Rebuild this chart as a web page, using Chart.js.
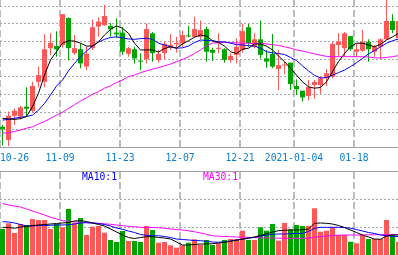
<!DOCTYPE html>
<html>
<head>
<meta charset="utf-8">
<script src="https://cdn.jsdelivr.net/npm/chart.js@4.4.0/dist/chart.umd.min.js"></script>
<style>
  html, body { margin: 0; padding: 0; background: #fff; }
  .kline-wrap { position: relative; width: 398px; height: 255px; overflow: hidden; background: #fff; }
  .kline-wrap canvas { position: absolute; left: 0; }
  #priceChart { top: 0; }
  #volumeChart { top: 171px; }
</style>
</head>
<body>
<div class="kline-wrap">
  <canvas id="priceChart" width="398" height="171"></canvas>
  <canvas id="volumeChart" width="398" height="84"></canvas>
</div>
<script>
var dates = [
    '2020-10-26', '2020-10-27', '2020-10-28', '2020-10-29', '2020-10-30',
    '2020-11-02', '2020-11-03', '2020-11-04', '2020-11-05', '2020-11-06',
    '2020-11-09', '2020-11-10', '2020-11-11', '2020-11-12', '2020-11-13',
    '2020-11-16', '2020-11-17', '2020-11-18', '2020-11-19', '2020-11-20',
    '2020-11-23', '2020-11-24', '2020-11-25', '2020-11-26', '2020-11-27',
    '2020-11-30', '2020-12-01', '2020-12-02', '2020-12-03', '2020-12-04',
    '2020-12-07', '2020-12-08', '2020-12-09', '2020-12-10', '2020-12-11',
    '2020-12-14', '2020-12-15', '2020-12-16', '2020-12-17', '2020-12-18',
    '2020-12-21', '2020-12-22', '2020-12-23', '2020-12-24', '2020-12-25',
    '2020-12-28', '2020-12-29', '2020-12-30', '2020-12-31',
    '2021-01-04', '2021-01-05', '2021-01-06', '2021-01-07', '2021-01-08',
    '2021-01-11', '2021-01-12', '2021-01-13', '2021-01-14', '2021-01-15',
    '2021-01-18', '2021-01-19', '2021-01-20', '2021-01-21', '2021-01-22',
    '2021-01-25', '2021-01-26', '2021-01-27'
];

var openP = [
    14.57, 14.20, 14.88, 14.86, 15.14, 15.02, 15.84, 15.84, 16.79, 16.85,
    16.88, 17.64, 16.65, 16.76, 16.27, 16.79, 17.40, 17.44, 17.42, 17.23,
    17.23, 16.63, 16.76, 16.44, 16.48, 17.21, 16.46, 16.65, 16.83, 16.90,
    16.93, 17.14, 17.11, 17.11, 17.33, 16.74, 16.77, 16.76, 16.46, 16.60,
    16.74, 17.38, 16.83, 17.04, 16.50, 16.63, 16.20, 16.30, 16.38, 15.72,
    15.59, 15.44, 15.75, 15.75, 15.94, 15.98, 16.88, 16.79, 17.13, 16.69,
    16.72, 16.97, 16.69, 16.83, 17.04, 17.56, 17.07
];
var highP = [
    14.62, 15.00, 15.09, 15.16, 15.69, 15.84, 16.27, 17.18, 17.21, 17.27,
    17.75, 17.66, 17.16, 16.93, 16.83, 17.59, 17.66, 18.01, 17.50, 17.63,
    17.38, 16.83, 16.83, 16.65, 17.49, 17.25, 16.74, 16.97, 17.19, 17.11,
    17.28, 17.42, 17.68, 17.57, 17.40, 16.80, 17.21, 16.79, 16.65, 17.07,
    17.49, 17.47, 17.21, 17.57, 16.74, 17.19, 16.74, 16.41, 16.38, 15.91,
    15.59, 15.89, 15.89, 16.00, 16.20, 16.97, 17.21, 17.25, 17.13, 16.93,
    17.30, 17.04, 16.88, 17.07, 18.20, 17.75, 17.66
];
var lowP = [
    14.04, 14.03, 14.62, 14.78, 14.86, 14.97, 15.69, 15.69, 16.60, 16.55,
    16.80, 16.44, 16.60, 16.22, 16.17, 16.74, 17.11, 17.42, 17.11, 17.07,
    16.60, 16.55, 16.36, 16.17, 16.36, 16.41, 16.38, 16.48, 16.74, 16.66,
    16.83, 17.10, 17.10, 17.04, 16.41, 16.43, 16.65, 16.38, 16.38, 16.36,
    16.66, 16.83, 16.79, 16.50, 16.24, 16.22, 15.61, 16.06, 15.61, 15.47,
    15.28, 15.31, 15.36, 15.50, 15.72, 15.94, 16.55, 16.55, 16.72, 16.55,
    16.69, 16.41, 16.55, 16.50, 17.02, 17.21, 17.02
];
var closeP = [
    14.50, 14.88, 15.02, 15.12, 15.08, 15.72, 16.03, 16.76, 16.94, 16.76,
    17.75, 16.79, 16.79, 16.36, 16.63, 17.38, 17.54, 17.70, 17.32, 17.18,
    16.69, 16.79, 16.50, 16.41, 17.33, 16.65, 16.63, 16.91, 16.88, 16.94,
    17.16, 17.12, 17.33, 17.30, 16.69, 16.66, 16.79, 16.46, 16.57, 16.83,
    17.27, 16.93, 17.04, 16.60, 16.41, 16.27, 16.31, 16.31, 15.78, 15.63,
    15.40, 15.69, 15.84, 15.94, 16.08, 16.91, 16.97, 17.21, 16.76, 16.76,
    16.97, 16.76, 16.83, 17.04, 17.56, 17.30, 17.56
];

var ma5 = [
    14.81, 14.79, 14.78, 14.80, 14.86, 15.14, 15.52, 16.03, 16.46, 16.69,
    16.93, 17.00, 16.99, 16.93, 16.85, 16.85, 16.97, 17.16, 17.32, 17.42,
    17.35, 17.21, 16.93, 16.74, 16.74, 16.74, 16.68, 16.78, 16.83, 16.79,
    16.91, 17.00, 17.10, 17.16, 17.13, 17.00, 16.95, 16.85, 16.69, 16.64,
    16.76, 16.79, 16.91, 16.91, 16.85, 16.74, 16.57, 16.41, 16.22, 16.03,
    15.84, 15.70, 15.66, 15.68, 15.84, 16.13, 16.41, 16.64, 16.83, 16.93,
    16.93, 16.88, 16.83, 16.90, 17.02, 17.11, 17.21
];
var ma10 = [
    14.76, 14.78, 14.81, 14.84, 14.86, 14.90, 15.04, 15.23, 15.47, 15.72,
    15.89, 16.15, 16.36, 16.55, 16.71, 16.85, 16.96, 17.04, 17.09, 17.11,
    17.08, 17.05, 17.04, 17.06, 17.07, 17.04, 16.93, 16.88, 16.83, 16.79,
    16.80, 16.85, 16.95, 17.02, 17.01, 17.00, 16.97, 16.97, 16.93, 16.89,
    16.88, 16.86, 16.85, 16.79, 16.69, 16.66, 16.64, 16.61, 16.53, 16.44,
    16.29, 16.15, 16.02, 15.95, 15.96, 16.03, 16.10, 16.17, 16.27, 16.38,
    16.50, 16.63, 16.72, 16.83, 16.93, 17.00, 17.05
];
var ma30 = [
    14.39, 14.40, 14.44, 14.48, 14.53, 14.57, 14.65, 14.72, 14.81, 14.90,
    14.98, 15.09, 15.19, 15.30, 15.39, 15.49, 15.56, 15.66, 15.73, 15.82,
    15.89, 15.99, 16.03, 16.10, 16.15, 16.20, 16.24, 16.29, 16.34, 16.41,
    16.47, 16.55, 16.64, 16.74, 16.86, 16.93, 16.95, 16.95, 16.95, 16.94,
    16.93, 16.93, 16.92, 16.93, 16.91, 16.89, 16.87, 16.83, 16.79, 16.74,
    16.71, 16.67, 16.63, 16.59, 16.56, 16.55, 16.55, 16.55, 16.55, 16.55,
    16.55, 16.54, 16.52, 16.51, 16.53, 16.55, 16.58
];

var volume = [
    9.29, 11.32, 7.86, 11.07, 10.71, 12.86, 12.50, 12.50, 9.29, 11.07,
    9.89, 16.43, 11.54, 13.21, 7.14, 10.11, 10.36, 7.96, 5.36, 4.64,
    8.57, 5.00, 5.00, 4.64, 10.36, 8.93, 4.39, 4.64, 3.46, 2.61,
    3.46, 4.39, 5.61, 3.57, 5.36, 3.57, 4.18, 5.36, 5.71, 5.71,
    8.68, 5.36, 5.36, 9.89, 8.68, 11.07, 5.11, 11.43, 9.18, 10.71,
    10.36, 10.36, 16.68, 8.32, 8.68, 9.89, 7.14, 7.14, 4.75, 4.18,
    7.14, 5.71, 5.71, 5.71, 12.50, 7.50, 4.75
];
var volMa5 = [
    9.89, 9.82, 9.54, 10.00, 10.18, 10.54, 10.71, 10.89, 11.07, 11.25,
    11.43, 11.61, 12.14, 12.25, 11.96, 11.43, 10.89, 10.36, 9.29, 8.21,
    7.14, 6.25, 5.89, 6.25, 6.54, 6.54, 6.25, 6.07, 5.71, 4.64,
    3.57, 3.57, 3.75, 3.93, 3.93, 4.04, 4.29, 4.54, 4.89, 5.25,
    5.71, 6.07, 6.43, 6.96, 7.61, 8.21, 8.68, 8.82, 8.93, 8.93,
    9.04, 9.29, 11.32, 11.43, 11.32, 11.07, 10.54, 9.82, 8.93, 8.04,
    7.14, 6.43, 5.71, 5.61, 6.79, 7.14, 7.14
];
var volMa10 = [
    11.89, 11.79, 11.43, 10.89, 10.36, 10.36, 10.54, 10.54, 10.61, 10.71,
    10.71, 10.82, 11.07, 11.43, 11.54, 11.43, 11.25, 10.89, 10.36, 9.64,
    9.18, 8.57, 8.04, 7.32, 7.04, 6.89, 6.89, 6.61, 6.25, 5.71,
    5.54, 5.36, 5.18, 5.11, 4.89, 4.64, 4.54, 4.75, 5.00, 5.36,
    5.61, 5.96, 6.32, 6.79, 7.14, 7.39, 7.50, 7.50, 7.61, 7.68,
    7.75, 8.39, 9.54, 9.89, 9.89, 9.89, 9.89, 9.82, 9.54, 9.11,
    8.57, 8.04, 7.68, 7.14, 6.89, 6.68, 6.54
];
var volMa30 = [
    18.39, 17.86, 17.50, 17.14, 16.43, 15.71, 15.00, 14.29, 13.46, 12.86,
    12.25, 12.04, 11.86, 11.68, 11.54, 11.43, 11.32, 11.14, 10.96, 10.71,
    10.46, 10.25, 10.07, 9.89, 9.86, 9.82, 9.75, 9.54, 9.29, 9.11,
    8.93, 8.64, 8.29, 7.86, 7.39, 6.86, 6.71, 6.61, 6.54, 6.43,
    6.36, 6.29, 6.21, 6.14, 6.07, 6.07, 6.00, 6.00, 5.96, 5.96,
    5.96, 6.00, 6.32, 6.61, 6.79, 6.93, 7.07, 7.14, 7.14, 7.14,
    7.14, 7.21, 7.21, 7.25, 7.32, 7.32, 7.32
];

var tickDates = ['2020-10-26', '2020-11-09', '2020-11-23', '2020-12-07', '2020-12-21', '2021-01-04', '2021-01-18'];
var tickLabels = ['10-26', '11-09', '11-23', '12-07', '12-21', '2021-01-04', '01-18'];
var priceGrid = [14.48, 14.98, 15.48, 15.98, 16.48, 16.98, 17.48, 17.98];
var volumeGrid = [10, 20];

(function () {
    var UP = '#ff5757';
    var DOWN = '#00a400';
    var GRID = '#a8a8a8';
    var SLOT = 6;             // px per trading day
    var HALF = 2.5 / SLOT;    // grid line sits on the left edge of a candle body
    var WIDTH = 398;
    var MONO = '"DejaVu Sans Mono", monospace';

    var tickIndex = tickDates.map(function (d) { return dates.indexOf(d); });

    function candleColor(i) {
        return closeP[i] >= openP[i] ? UP : DOWN;
    }

    function points(arr) {
        return arr.map(function (v, i) { return { x: i, y: v }; });
    }

    function maLine(label, arr, color) {
        return {
            type: 'line',
            label: label,
            data: points(arr),
            borderColor: color,
            borderWidth: 1,
            pointRadius: 0,
            tension: 0,
            fill: false,
            order: 0
        };
    }

    function xAxis(position) {
        return {
            type: 'linear',
            position: position,
            offset: false,
            min: -HALF,
            max: -HALF + WIDTH / SLOT,
            afterBuildTicks: function (scale) {
                scale.ticks = tickIndex.map(function (i) { return { value: i - HALF }; });
            },
            ticks: { display: false },
            grid: { color: '#bcbcbc', lineWidth: 2, drawTicks: false, offset: false },
            border: { display: true, color: '#a0a0a0', width: 1, dash: [7, 3] }
        };
    }

    function yAxis(min, max, grid) {
        return {
            type: 'linear',
            min: min,
            max: max,
            afterBuildTicks: function (scale) {
                scale.ticks = grid.map(function (v) { return { value: v }; });
            },
            ticks: { display: false },
            grid: { color: GRID, lineWidth: 1, drawTicks: false },
            border: { display: false, dash: [2, 2] }
        };
    }

    var dateLabels = {
        id: 'dateLabels',
        afterDraw: function (chart) {
            var ctx = chart.ctx;
            var x = chart.scales.x;
            var y0 = chart.chartArea.bottom + 14;
            ctx.save();
            ctx.font = '9.7px ' + MONO;
            ctx.fillStyle = '#0a7fd0';
            ctx.textBaseline = 'alphabetic';
            tickLabels.forEach(function (lab, j) {
                var px = x.getPixelForValue(tickIndex[j] - HALF);
                var w = ctx.measureText(lab).width;
                var left = Math.max(0, Math.min(chart.width - w, px - w / 2));
                ctx.fillText(lab, left, y0);
            });
            ctx.restore();
        }
    };

    var volumeLegend = {
        id: 'volumeLegend',
        afterDraw: function (chart) {
            var ctx = chart.ctx;
            ctx.save();
            ctx.font = '9.7px ' + MONO;
            ctx.textBaseline = 'alphabetic';
            ctx.fillStyle = '#0000ff';
            ctx.fillText('MA10:1', 82, 9);
            ctx.fillStyle = '#ff00ff';
            ctx.fillText('MA30:1', 203, 9);
            ctx.restore();
        }
    };

    var common = {
        responsive: false,
        animation: false,
        devicePixelRatio: 1,
        events: [],
        plugins: { legend: { display: false }, tooltip: { enabled: false } }
    };

    function initCharts() {
        new Chart(document.getElementById('priceChart'), {
            type: 'bar',
            data: {
                datasets: [
                    maLine('MA5', ma5, '#000000'),
                    maLine('MA10', ma10, '#0000ff'),
                    maLine('MA30', ma30, '#ff00ff'),
                    {
                        label: 'body',
                        data: openP.map(function (o, i) { return { x: i, y: [o, closeP[i]] }; }),
                        backgroundColor: function (c) { return candleColor(c.dataIndex); },
                        grouped: false,
                        barThickness: 5,
                        maxBarThickness: 5,
                        minBarLength: 1,
                        inflateAmount: 0,
                        borderWidth: 0,
                        order: 1
                    },
                    {
                        label: 'wick',
                        data: lowP.map(function (l, i) { return { x: i, y: [l, highP[i]] }; }),
                        backgroundColor: function (c) { return candleColor(c.dataIndex); },
                        grouped: false,
                        barThickness: 1,
                        maxBarThickness: 1,
                        inflateAmount: 0,
                        borderWidth: 0,
                        order: 2
                    }
                ]
            },
            options: Object.assign({}, common, {
                layout: { padding: { top: 0, left: 0, right: 0, bottom: 24 }, autoPadding: false },
                scales: {
                    x: xAxis('bottom'),
                    y: yAxis(14, 18.15, priceGrid)
                }
            }),
            plugins: [dateLabels]
        });

        new Chart(document.getElementById('volumeChart'), {
            type: 'bar',
            data: {
                datasets: [
                    maLine('MA5', volMa5, '#000000'),
                    maLine('MA10', volMa10, '#0000ff'),
                    maLine('MA30', volMa30, '#ff00ff'),
                    {
                        label: 'VOL',
                        data: points(volume),
                        backgroundColor: function (c) { return candleColor(c.dataIndex); },
                        grouped: false,
                        barThickness: 5,
                        maxBarThickness: 5,
                        inflateAmount: 0,
                        borderWidth: 0,
                        order: 1
                    }
                ]
            },
            options: Object.assign({}, common, {
                layout: { padding: 0, autoPadding: false },
                scales: {
                    x: xAxis('top'),
                    y: yAxis(0, 30, volumeGrid)
                }
            }),
            plugins: [volumeLegend]
        });
    }

    initCharts();
})();
</script>
</body>
</html>
